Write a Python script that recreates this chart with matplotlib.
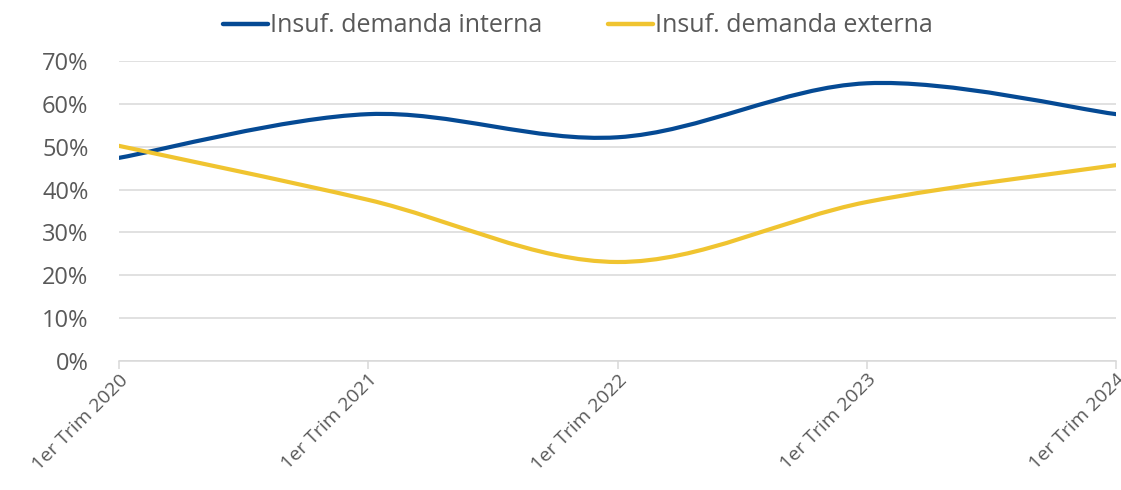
import matplotlib
matplotlib.use("Agg")
import matplotlib.pyplot as plt
from matplotlib.path import Path
from matplotlib.patches import PathPatch
from matplotlib.lines import Line2D
from matplotlib.ticker import FuncFormatter
import numpy as np

categories = ["1er Trim 2020", "1er Trim 2021", "1er Trim 2022", "1er Trim 2023", "1er Trim 2024"]
interna = [47.4, 57.6, 52.2, 64.8, 57.6]
externa = [50.2, 37.6, 23.1, 37.1, 45.7]

C_INT = "#054a94"
C_EXT = "#f0c430"
C_GRID = "#d9d9d9"
C_TEXT = "#595959"

plt.rcParams["font.family"] = ["Open Sans", "DejaVu Sans"]


def smooth_path(xs, ys):
    """Excel-like smoothed line: Catmull-Rom segments as cubic Beziers."""
    pts = np.column_stack([xs, ys]).astype(float)
    n = len(pts)
    verts = [pts[0]]
    codes = [Path.MOVETO]
    for i in range(n - 1):
        p0 = pts[i - 1] if i > 0 else pts[i]
        p1 = pts[i]
        p2 = pts[i + 1]
        p3 = pts[i + 2] if i + 2 < n else pts[i + 1]
        c1 = p1 + (p2 - p0) / 6.0
        c2 = p2 - (p3 - p1) / 6.0
        verts += [c1, c2, p2]
        codes += [Path.CURVE4] * 3
    return Path(verts, codes)


fig = plt.figure(figsize=(11.21, 4.9), dpi=100)
ax = fig.add_axes([119 / 1121, 1 - 361 / 490, (1116 - 119) / 1121, 300 / 490])

x = np.arange(len(categories))
for vals, color in [(interna, C_INT), (externa, C_EXT)]:
    ax.add_patch(PathPatch(smooth_path(x, vals), facecolor="none", edgecolor=color,
                           lw=3.0, capstyle="round", joinstyle="round", zorder=3))

ax.set_xlim(0, len(categories) - 1)
ax.set_ylim(0, 70)
ax.set_yticks(np.arange(0, 71, 10))
ax.yaxis.set_major_formatter(FuncFormatter(lambda v, _: f"{v:.0f}%"))
ax.grid(True, axis="y", color=C_GRID, lw=1.1)
ax.set_axisbelow(True)
for s in ["left", "right", "top"]:
    ax.spines[s].set_visible(False)
ax.spines["bottom"].set_color(C_GRID)
ax.spines["bottom"].set_linewidth(1.1)
ax.tick_params(axis="y", length=0, pad=22, labelsize=17, labelcolor=C_TEXT)
ax.tick_params(axis="x", length=6, color=C_GRID, width=1.1, labelsize=14,
               labelcolor=C_TEXT, pad=1)
ax.set_xticks(x)
ax.set_xticklabels(categories, rotation=45, ha="right", rotation_mode="anchor")

handles = [Line2D([], [], color=C_INT, lw=3.2, solid_capstyle="round"),
           Line2D([], [], color=C_EXT, lw=3.2, solid_capstyle="round")]
fig.legend(handles, ["Insuf. demanda interna", "Insuf. demanda externa"],
           loc="center", bbox_to_anchor=(578 / 1121, 1 - 26 / 490), ncol=2,
           frameon=False, fontsize=18, labelcolor=C_TEXT, handlelength=1.8,
           handletextpad=0.1, columnspacing=2.6)

fig.savefig("out.png", dpi=100, facecolor="white")
